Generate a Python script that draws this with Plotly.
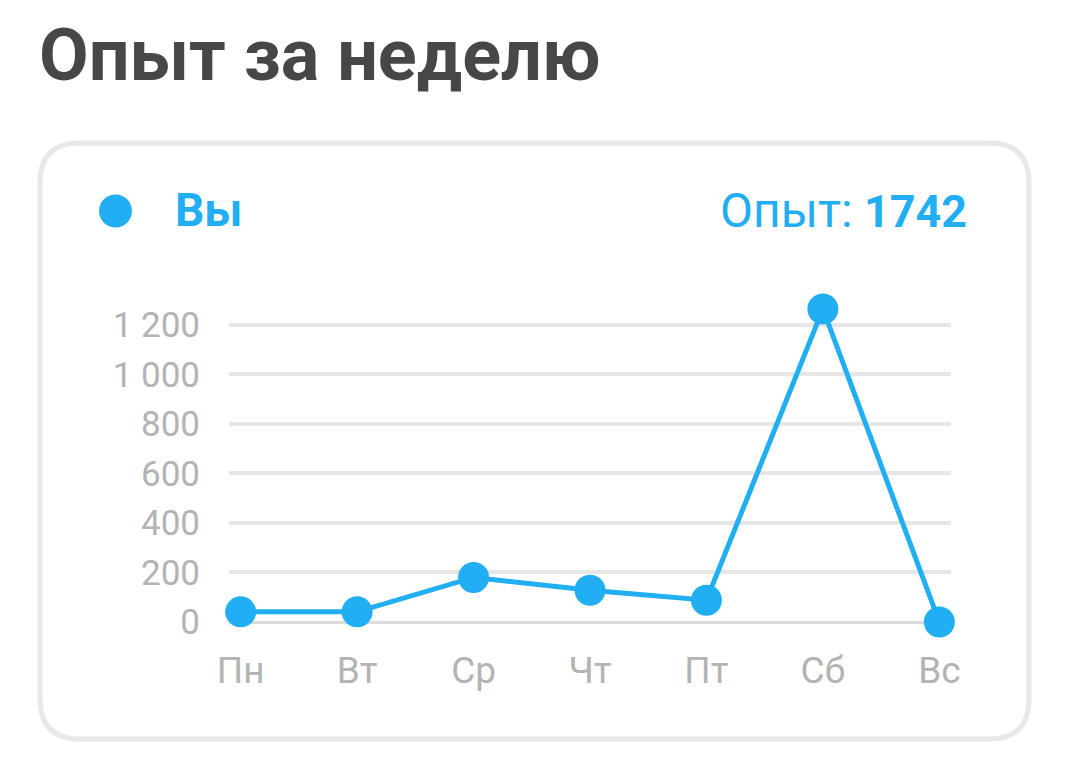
import plotly.graph_objects as go

days = ["Пн", "Вт", "Ср", "Чт", "Пт", "Сб", "Вс"]
xp = [41, 41, 180, 128, 88, 1264, 0]
series_name = "Вы"
title_text = "Опыт за неделю"
total_label = "Опыт:"

BLUE = "#22aef3"
GRAY_TXT = "#b3b3b3"
W, H = 1075, 770
OFF = 8  # page body margin
L, R, T, B = 229 - OFF, 124 + OFF, 300 - OFF, 148 + OFF
PW, PH = W - L - R, H - T - B


def px2x(px):
    return (px - OFF - L) / PW


def py2y(py):
    return (H - B - (py - OFF)) / PH


fig = go.Figure()
fig.add_trace(go.Scatter(
    x=list(range(len(days))), y=xp, mode="lines+markers",
    line=dict(color=BLUE, width=5),
    marker=dict(color=BLUE, size=31),
    cliponaxis=False, showlegend=False, name=series_name,
))

# rounded card
x0, x1, y0, y1, r = 40, 1029, 143, 739, 40


def P(px, py):
    return f"{px2x(px):.5f},{py2y(py):.5f}"


path = (f"M {P(x0 + r, y0)} L {P(x1 - r, y0)} Q {P(x1, y0)} {P(x1, y0 + r)} "
        f"L {P(x1, y1 - r)} Q {P(x1, y1)} {P(x1 - r, y1)} "
        f"L {P(x0 + r, y1)} Q {P(x0, y1)} {P(x0, y1 - r)} "
        f"L {P(x0, y0 + r)} Q {P(x0, y0)} {P(x0 + r, y0)} Z")
shapes = [
    dict(type="path", xref="paper", yref="paper", path=path,
         line=dict(color="#e8e8e8", width=5), layer="below"),
    dict(type="circle", xref="paper", yref="paper",
         xsizemode="pixel", ysizemode="pixel",
         xanchor=px2x(115.5), yanchor=py2y(211),
         x0=-16.5, x1=16.5, y0=-16.5, y1=16.5,
         fillcolor=BLUE, line=dict(width=0)),
]

annotations = [
    dict(text=f"<b>{title_text}</b>", xref="paper", yref="paper",
         x=px2x(37), y=py2y(56), xanchor="left", yanchor="middle",
         showarrow=False, font=dict(family="Roboto", size=72, color="#474747")),
    dict(text=f"<b>{series_name}</b>", xref="paper", yref="paper",
         x=px2x(173), y=py2y(210), xanchor="left", yanchor="middle",
         showarrow=False, font=dict(family="Roboto", size=46, color=BLUE)),
    dict(text=(f'<span style="font-size:48px">{total_label}</span> '
               f"<b>{sum(xp)}</b>"),
         xref="paper", yref="paper",
         x=px2x(969), y=py2y(210), xanchor="right", yanchor="middle",
         showarrow=False, font=dict(family="Roboto", size=45, color=BLUE)),
]

fig.update_layout(
    width=W, height=H,
    margin=dict(l=L, r=R, t=T, b=B, autoexpand=False),
    paper_bgcolor="white", plot_bgcolor="white",
    separators=", ",
    shapes=shapes, annotations=annotations,
    font=dict(family="Roboto"),
)
fig.update_xaxes(
    range=[-0.1, 6.1], tickmode="array", tickvals=list(range(len(days))),
    ticktext=days, showgrid=False, zeroline=False, showline=False,
    tickfont=dict(family="Roboto", size=37, color=GRAY_TXT),
    ticks="", ticklabelstandoff=23,
)
fig.update_yaxes(
    range=[0, 1300], dtick=200, tick0=0, separatethousands=True,
    showgrid=True, gridcolor="#e6e6e6", gridwidth=4,
    zeroline=True, zerolinecolor="#dcdcdc", zerolinewidth=3,
    showline=False, ticks="",
    tickfont=dict(family="Roboto", size=35, color=GRAY_TXT),
    ticklabelstandoff=28,
)

fig.write_html("out.html")
